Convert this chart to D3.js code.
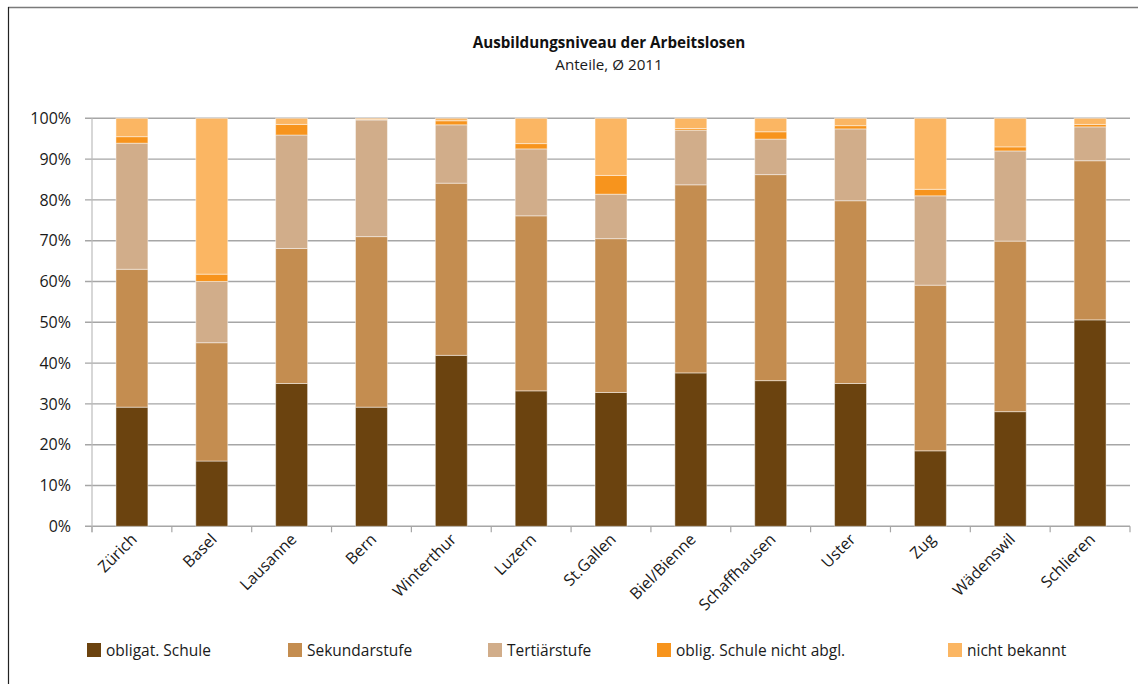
<!DOCTYPE html>
<html>
<head>
<meta charset="utf-8">
<script src="https://cdn.jsdelivr.net/npm/d3@7/dist/d3.min.js"></script>
<style>
  html, body { margin: 0; padding: 0; background: #fff; }
  svg { display: block; font-family: "Open Sans", "Noto Sans", sans-serif; }
</style>
</head>
<body>
<svg id="chart" width="1138" height="684"></svg>
<script>
const categories = ["Zürich", "Basel", "Lausanne", "Bern", "Winterthur", "Luzern", "St.Gallen", "Biel/Bienne", "Schaffhausen", "Uster", "Zug", "Wädenswil", "Schlieren"];
const seriesNames = ["obligat. Schule", "Sekundarstufe", "Tertiärstufe", "oblig. Schule nicht abgl.", "nicht bekannt"];
const obligat      = [29.2, 16.0, 35.0, 29.2, 41.9, 33.2, 32.8, 37.6, 35.7, 35.0, 18.5, 28.1, 50.6];
const sekundar     = [33.8, 29.0, 33.1, 41.8, 42.2, 42.9, 37.7, 46.1, 50.5, 44.8, 40.6, 41.8, 39.0];
const tertiaer     = [30.9, 15.0, 27.8, 28.6, 14.3, 16.4, 10.9, 13.4,  8.7, 17.6, 21.9, 22.1,  8.3];
const nichtAbgl    = [ 1.6,  1.8,  2.6,  0.1,  1.0,  1.3,  4.6,  0.4,  1.8,  0.8,  1.6,  1.0,  0.6];
const nichtBekannt = [ 4.5, 38.2,  1.5,  0.3,  0.6,  6.2, 14.0,  2.5,  3.3,  1.8, 17.4,  7.0,  1.5];
const yTicks = [0, 10, 20, 30, 40, 50, 60, 70, 80, 90, 100];
const colors = ["#6b430f", "#c48d50", "#d1ad8a", "#f7941d", "#fbb663"];

const svg = d3.select("#chart");

// frame
svg.append("line").attr("x1", 8).attr("x2", 1138).attr("y1", 7.5).attr("y2", 7.5).attr("stroke", "#7a7a7a").attr("stroke-width", 1.5);
svg.append("line").attr("x1", 8.5).attr("x2", 8.5).attr("y1", 7).attr("y2", 684).attr("stroke", "#222").attr("stroke-width", 1.2);

// title
svg.append("text").attr("x", 609).attr("y", 48).attr("text-anchor", "middle")
  .attr("font-weight", "bold").attr("font-size", 15.2).attr("fill", "#111").text("Ausbildungsniveau der Arbeitslosen");
svg.append("text").attr("x", 609).attr("y", 70).attr("text-anchor", "middle")
  .attr("font-size", 15.2).attr("fill", "#1a1a1a").text("Anteile, Ø 2011");

const x = d3.scaleBand().domain(categories).range([92, 1130]).paddingInner(0.6).paddingOuter(0.3);
const y = d3.scaleLinear().domain([0, 100]).range([526.3, 118.3]);

// gridlines
svg.append("g").selectAll("line.grid").data(yTicks).join("line").attr("class", "grid")
  .attr("x1", 85).attr("x2", 1130).attr("y1", d => y(d)).attr("y2", d => y(d))
  .attr("stroke", "#a6a6a6").attr("stroke-width", 1.4);

// y axis line
svg.append("line").attr("x1", 92).attr("x2", 92).attr("y1", y(100)).attr("y2", y(0) + 6)
  .attr("stroke", "#bdbdbd").attr("stroke-width", 1.2);

// y labels
svg.selectAll("text.ylab").data(yTicks).join("text").attr("class", "ylab")
  .attr("x", 71).attr("y", d => y(d)).attr("dy", "0.36em").attr("text-anchor", "end")
  .attr("font-size", 16).attr("fill", "#1a1a1a").text(d => d + "%");

// x ticks at band boundaries
const step = x.step();
const boundaries = d3.range(categories.length + 1).map(i => 92 + i * step);
svg.selectAll("line.xtick").data(boundaries).join("line").attr("class", "xtick")
  .attr("x1", d => d).attr("x2", d => d).attr("y1", y(0)).attr("y2", y(0) + 6)
  .attr("stroke", "#a6a6a6").attr("stroke-width", 1.2);

// stacked bars
const table = categories.map((c, i) => ({
  cat: c, s0: obligat[i], s1: sekundar[i], s2: tertiaer[i], s3: nichtAbgl[i], s4: nichtBekannt[i]
}));
const stack = d3.stack().keys(["s0", "s1", "s2", "s3", "s4"]);
const layers = stack(table);

svg.selectAll("g.layer").data(layers).join("g").attr("class", "layer")
  .attr("fill", (d, i) => colors[i])
  .selectAll("rect").data(d => d).join("rect")
  .attr("x", d => x(d.data.cat))
  .attr("width", x.bandwidth())
  .attr("y", d => y(d[1]))
  .attr("height", d => y(d[0]) - y(d[1]))
  .attr("stroke", "rgba(255,255,255,0.45)").attr("stroke-width", 1);

// x labels rotated
svg.selectAll("text.xlab").data(categories).join("text").attr("class", "xlab")
  .attr("text-anchor", "end").attr("font-size", 16).attr("fill", "#1a1a1a")
  .attr("transform", d => `translate(${x(d) + x.bandwidth() / 2 + 6},${y(0) + 14}) rotate(-45)`)
  .text(d => d);

// legend
const legendX = [87, 288, 488, 657, 948];
const lg = svg.selectAll("g.leg").data(seriesNames).join("g").attr("class", "leg")
  .attr("transform", (d, i) => `translate(${legendX[i]},643)`);
lg.append("rect").attr("width", 14).attr("height", 14).attr("fill", (d, i) => colors[i]);
lg.append("text").attr("x", 19).attr("y", 13).attr("font-size", 15.5).attr("fill", "#1a1a1a").text(d => d);
</script>
</body>
</html>
